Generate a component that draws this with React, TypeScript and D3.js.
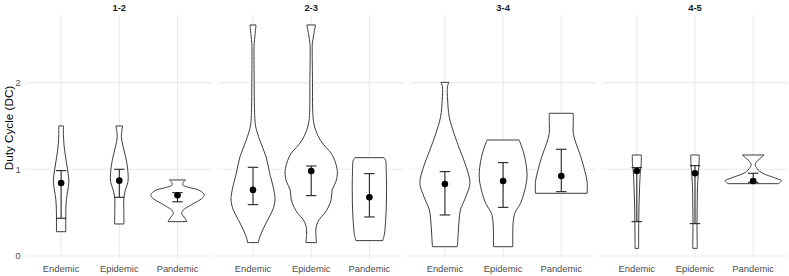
import React from "react";
import * as d3 from "d3";

// ---------- data ----------
const panels = ["1-2", "2-3", "3-4", "4-5"];
const groups = ["Endemic", "Epidemic", "Pandemic"];
const yTicks = [0, 1, 2];

// violin outlines: [Duty Cycle value, relative violin width]
const v12Endemic: [number, number][] = [
  [1.5, 0.08], [1.4, 0.08], [1.28, 0.1], [1.15, 0.15], [1.0, 0.22], [0.88, 0.265],
  [0.8, 0.25], [0.7, 0.2], [0.6, 0.17], [0.45, 0.16], [0.28, 0.16],
];
const v12Epidemic: [number, number][] = [
  [1.5, 0.115], [1.377, 0.07], [1.262, 0.13], [1.108, 0.24], [0.954, 0.3], [0.858, 0.3],
  [0.762, 0.21], [0.665, 0.155], [0.55, 0.155], [0.369, 0.16],
];
const v12Pandemic: [number, number][] = [
  [0.877, 0.275], [0.85, 0.2], [0.819, 0.183], [0.79, 0.4], [0.762, 0.72], [0.735, 0.85],
  [0.704, 0.917], [0.675, 0.87], [0.646, 0.77], [0.61, 0.58], [0.569, 0.37], [0.53, 0.2],
  [0.492, 0.143], [0.435, 0.258], [0.396, 0.326],
];
const v23Endemic: [number, number][] = [
  [2.665, 0.103], [2.55, 0.07], [2.45, 0.04], [2.377, 0.035], [2.0, 0.04], [1.7, 0.05],
  [1.55, 0.07], [1.49, 0.093], [1.338, 0.23], [1.146, 0.447], [0.954, 0.574], [0.762, 0.715],
  [0.646, 0.756], [0.531, 0.677], [0.415, 0.5], [0.3, 0.333], [0.204, 0.216], [0.154, 0.19],
];
const v23Epidemic: [number, number][] = [
  [2.665, 0.148], [2.55, 0.086], [2.45, 0.04], [2.377, 0.035], [2.0, 0.045], [1.7, 0.05],
  [1.55, 0.08], [1.45, 0.155], [1.338, 0.31], [1.25, 0.515], [1.185, 0.687], [1.069, 0.842],
  [0.954, 0.9], [0.858, 0.85], [0.76, 0.72], [0.65, 0.687], [0.56, 0.584], [0.49, 0.457],
  [0.42, 0.275], [0.34, 0.172], [0.25, 0.16], [0.154, 0.182],
];
const v23Pandemic: [number, number][] = [
  [1.134, 0.5], [1.1, 0.56], [1.0, 0.577], [0.8, 0.59], [0.6, 0.584], [0.4, 0.557],
  [0.25, 0.515], [0.177, 0.46],
];
const v34Endemic: [number, number][] = [
  [2.003, 0.137], [1.954, 0.086], [1.8, 0.093], [1.607, 0.148], [1.415, 0.31], [1.223, 0.515],
  [1.03, 0.732], [0.838, 0.86], [0.684, 0.72], [0.531, 0.533], [0.415, 0.488], [0.262, 0.457],
  [0.107, 0.43],
];
const v34Epidemic: [number, number][] = [
  [1.338, 0.55], [1.185, 0.711], [0.992, 0.814], [0.877, 0.814], [0.723, 0.715], [0.608, 0.6],
  [0.492, 0.4], [0.377, 0.344], [0.107, 0.333],
];
const v34Pandemic: [number, number][] = [
  [1.646, 0.412], [1.53, 0.412], [1.415, 0.412], [1.3, 0.505], [1.146, 0.67], [0.992, 0.8],
  [0.857, 0.887], [0.723, 0.887],
];
const v45Endemic: [number, number][] = [
  [1.165, 0.155], [1.05, 0.148], [1.01, 0.13], [0.8, 0.096], [0.6, 0.076], [0.4, 0.066],
  [0.2, 0.062], [0.088, 0.062],
];
const v45Epidemic: [number, number][] = [
  [1.165, 0.148], [1.05, 0.137], [1.01, 0.127], [0.8, 0.086], [0.6, 0.076], [0.37, 0.069],
  [0.088, 0.079],
];
const v45Pandemic: [number, number][] = [
  [1.165, 0.371], [1.12, 0.22], [1.08, 0.1], [1.05, 0.069], [1.01, 0.13], [0.973, 0.23],
  [0.94, 0.42], [0.915, 0.63], [0.89, 0.83], [0.869, 0.97], [0.85, 0.93], [0.834, 0.86],
];

// mean and error bar limits, per panel, in group order
const mean12 = [0.842, 0.869, 0.7];
const low12 = [0.435, 0.677, 0.625];
const high12 = [0.985, 1.0, 0.73];
const mean23 = [0.762, 0.98, 0.677];
const low23 = [0.592, 0.696, 0.45];
const high23 = [1.023, 1.038, 0.95];
const mean34 = [0.831, 0.865, 0.923];
const low34 = [0.473, 0.561, 0.742];
const high34 = [0.973, 1.077, 1.231];
const mean45 = [0.98, 0.954, 0.865];
const low45 = [0.396, 0.373, 0.85];
const high45 = [1.019, 1.042, 0.954];

const violins = [
  [v12Endemic, v12Epidemic, v12Pandemic],
  [v23Endemic, v23Epidemic, v23Pandemic],
  [v34Endemic, v34Epidemic, v34Pandemic],
  [v45Endemic, v45Epidemic, v45Pandemic],
];
const means = [mean12, mean23, mean34, mean45];
const lows = [low12, low23, low34, low45];
const highs = [high12, high23, high34, high45];

// ---------- layout ----------
const W = 789;
const H = 276;
const panelLeft0 = 26.2;
const panelW = 186.2;
const panelGap = 5.7;
const panelTop = 15;
const panelBottom = 259;
const FONT = "'Liberation Sans', Arial, Helvetica, sans-serif";

export default function App() {
  const y = d3.scaleLinear().domain([-0.035, 2.78]).range([panelBottom, panelTop]);

  return (
    <svg
      width={W}
      height={H}
      style={{ position: "absolute", left: 0, top: 0, background: "#fff" }}
      fontFamily={FONT}
    >
      <rect x={0} y={0} width={W} height={H} fill="#fff" />
      {/* y axis title */}
      <text
        transform={`translate(12.5,128) rotate(-90)`}
        textAnchor="middle"
        fontSize={11.7}
        fill="#000"
      >
        Duty Cycle (DC)
      </text>
      {/* y tick labels */}
      {yTicks.map((t) => (
        <text
          key={t}
          x={20.8}
          y={y(t)}
          dy="0.35em"
          textAnchor="end"
          fontSize={9.4}
          fill="#4D4D4D"
        >
          {t}
        </text>
      ))}
      {panels.map((p, pi) => {
        const left = panelLeft0 + pi * (panelW + panelGap);
        const x = d3.scalePoint<string>().domain(groups).range([left, left + panelW]).padding(0.6);
        const step = x.step();
        return (
          <g key={p}>
            {/* grid */}
            {yTicks.map((t) => (
              <line
                key={"h" + t}
                x1={left}
                x2={left + panelW}
                y1={y(t)}
                y2={y(t)}
                stroke="#EBEBEB"
                strokeWidth={1.07}
              />
            ))}
            {groups.map((g) => (
              <line
                key={"v" + g}
                x1={x(g)}
                x2={x(g)}
                y1={panelTop}
                y2={panelBottom}
                stroke="#EBEBEB"
                strokeWidth={1.07}
              />
            ))}
            {/* strip label */}
            <text
              x={left + panelW / 2}
              y={10.8}
              textAnchor="middle"
              fontSize={9.4}
              fontWeight="bold"
              fill="#1A1A1A"
            >
              {p}
            </text>
            {groups.map((g, gi) => {
              const cx = x(g) as number;
              const area = d3
                .area<[number, number]>()
                .y((d) => y(d[0]))
                .x0((d) => cx - (d[1] * step) / 2)
                .x1((d) => cx + (d[1] * step) / 2)
                .curve(d3.curveCatmullRom);
              const capHalf = 0.09 * step;
              const lo = y(lows[pi][gi]);
              const hi = y(highs[pi][gi]);
              return (
                <g key={g}>
                  <path
                    d={area(violins[pi][gi]) || ""}
                    fill="#fff"
                    stroke="#333333"
                    strokeWidth={0.95}
                  />
                  <line x1={cx} x2={cx} y1={lo} y2={hi} stroke="#222" strokeWidth={1.1} />
                  <line x1={cx - capHalf} x2={cx + capHalf} y1={lo} y2={lo} stroke="#222" strokeWidth={1.1} />
                  <line x1={cx - capHalf} x2={cx + capHalf} y1={hi} y2={hi} stroke="#222" strokeWidth={1.1} />
                  <circle cx={cx} cy={y(means[pi][gi])} r={3.3} fill="#000" />
                </g>
              );
            })}
            {/* x tick labels */}
            {groups.map((g) => (
              <text
                key={"xl" + g}
                x={x(g)}
                y={272}
                textAnchor="middle"
                fontSize={9.4}
                fill="#4D4D4D"
              >
                {g}
              </text>
            ))}
          </g>
        );
      })}
    </svg>
  );
}
